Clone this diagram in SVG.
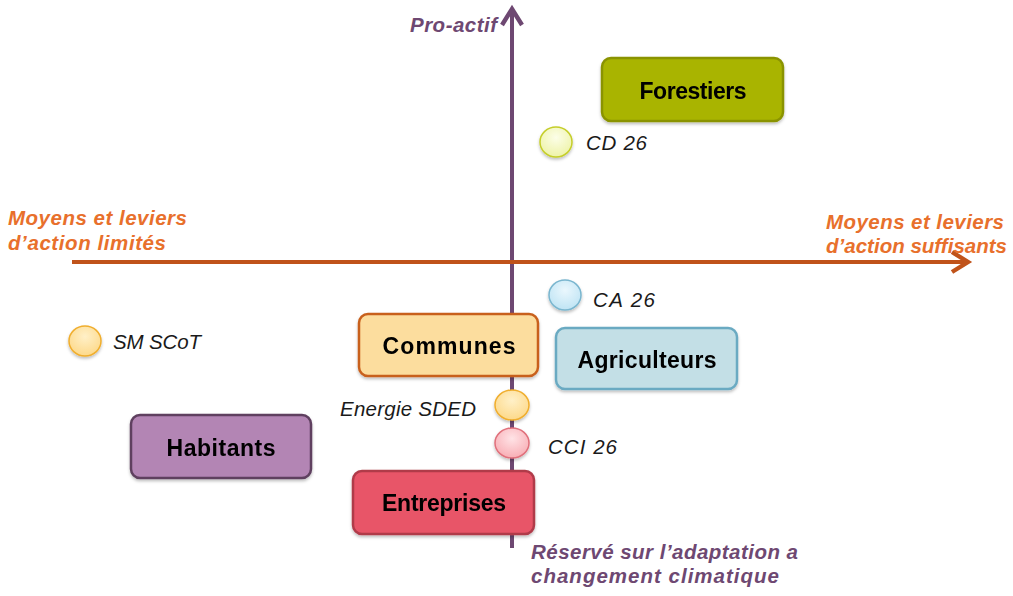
<svg xmlns="http://www.w3.org/2000/svg" width="1013" height="596" viewBox="0 0 1013 596">
<defs>
<style>
.box{stroke-width:2.5}
.bt{font-family:"Liberation Sans",Arial,sans-serif;font-weight:bold;font-size:23px;fill:#000;text-anchor:middle}
.ct{font-family:"Liberation Sans",Arial,sans-serif;font-style:italic;font-size:20.5px;fill:#1a1a1a}
.ax{font-family:"Liberation Sans",Arial,sans-serif;font-style:italic;font-weight:bold;font-size:20.5px}
.or{fill:#E8702C}
.pu{fill:#6E4872}
.dot{stroke-width:1.5}
</style>
<filter id="sh" x="-20%" y="-20%" width="140%" height="150%">
<feDropShadow dx="0" dy="2" stdDeviation="1.5" flood-color="#000" flood-opacity="0.25"/>
</filter>
<marker id="ahP" markerWidth="6" markerHeight="6" refX="4.5" refY="3" orient="auto" markerUnits="strokeWidth">
<path d="M0.5,0.5 L4.5,3 L0.5,5.5" fill="none" stroke="#6E4872" stroke-width="1.1" stroke-linejoin="miter"/>
</marker>
<marker id="ahO" markerWidth="6" markerHeight="6" refX="4.5" refY="3" orient="auto" markerUnits="strokeWidth">
<path d="M0.5,0.5 L4.5,3 L0.5,5.5" fill="none" stroke="#C0531A" stroke-width="1.1" stroke-linejoin="miter"/>
</marker>
<radialGradient id="gCD" cx="50%" cy="35%" r="65%"><stop offset="0" stop-color="#FCFEE8"/><stop offset="1" stop-color="#EEF3A8"/></radialGradient>
<radialGradient id="gCA" cx="50%" cy="35%" r="65%"><stop offset="0" stop-color="#EAF7FD"/><stop offset="1" stop-color="#BFE4F4"/></radialGradient>
<radialGradient id="gSM" cx="50%" cy="35%" r="65%"><stop offset="0" stop-color="#FFF0C8"/><stop offset="1" stop-color="#FDD98A"/></radialGradient>
<radialGradient id="gCC" cx="50%" cy="35%" r="65%"><stop offset="0" stop-color="#FFE3E6"/><stop offset="1" stop-color="#F8AEB5"/></radialGradient>
</defs>
<rect width="1013" height="596" fill="#fff"/>

<g id="connectors">
<line x1="512" y1="548" x2="512" y2="9" stroke="#6E4872" stroke-width="4" marker-end="url(#ahP)"/>
<line x1="72" y1="262" x2="968" y2="262" stroke="#C0531A" stroke-width="4" marker-end="url(#ahO)"/>
</g>

<g id="axis-labels">
<text class="ax pu" x="497" y="32" text-anchor="end" textLength="87">Pro-actif</text>
<text class="ax or" x="8" y="225" textLength="179">Moyens et leviers</text>
<text class="ax or" x="8" y="250" textLength="158">d’action limités</text>
<text class="ax or" x="826" y="229" textLength="178">Moyens et leviers</text>
<text class="ax or" x="826" y="253" textLength="181">d’action suffisants</text>
<text class="ax pu" x="531" y="559" textLength="267">Réservé sur l’adaptation a</text>
<text class="ax pu" x="531" y="583" textLength="248">changement climatique</text>
</g>

<g id="forestiers" filter="url(#sh)">
<rect class="box" x="602" y="58" width="181" height="63" rx="9" fill="#A9B400" stroke="#8A9300"/>
<text class="bt" x="693" y="99" textLength="107">Forestiers</text>
</g>

<g id="communes" filter="url(#sh)">
<rect class="box" x="359" y="314" width="179" height="62" rx="9" fill="#FCDD9E" stroke="#C8601E"/>
<text class="bt" x="449" y="354" textLength="133">Communes</text>
</g>

<g id="agriculteurs" filter="url(#sh)">
<rect class="box" x="556" y="328" width="181" height="61" rx="9" fill="#C3DFE6" stroke="#6AAAC2"/>
<text class="bt" x="647" y="368" textLength="139">Agriculteurs</text>
</g>

<g id="habitants" filter="url(#sh)">
<rect class="box" x="131" y="415" width="180" height="63" rx="9" fill="#B385B4" stroke="#5E3F5F"/>
<text class="bt" x="221" y="456" textLength="109">Habitants</text>
</g>

<g id="entreprises" filter="url(#sh)">
<rect class="box" x="353" y="471" width="181" height="63" rx="9" fill="#E85467" stroke="#B03A4A"/>
<text class="bt" x="444" y="511" textLength="124">Entreprises</text>
</g>

<g id="cd26">
<ellipse class="dot" cx="556" cy="142" rx="16" ry="15" fill="url(#gCD)" stroke="#C5CE2A" filter="url(#sh)"/>
<text class="ct" x="586" y="150" textLength="61">CD 26</text>
</g>

<g id="ca26">
<ellipse class="dot" cx="565" cy="295" rx="16" ry="15" fill="url(#gCA)" stroke="#7AB6CF" filter="url(#sh)"/>
<text class="ct" x="593" y="307" textLength="62">CA 26</text>
</g>

<g id="smscot">
<ellipse class="dot" cx="85" cy="341" rx="16" ry="15" fill="url(#gSM)" stroke="#F0AE2E" filter="url(#sh)"/>
<text class="ct" x="113" y="349" textLength="88">SM SCoT</text>
</g>

<g id="energie-sded">
<ellipse class="dot" cx="512" cy="405" rx="17" ry="15" fill="url(#gSM)" stroke="#F0AE2E" filter="url(#sh)"/>
<text class="ct" x="476" y="416" text-anchor="end" textLength="136">Energie SDED</text>
</g>

<g id="cci26">
<ellipse class="dot" cx="512" cy="443" rx="17" ry="15" fill="url(#gCC)" stroke="#E0707B" filter="url(#sh)"/>
<text class="ct" x="548" y="454" textLength="69">CCI 26</text>
</g>
</svg>
